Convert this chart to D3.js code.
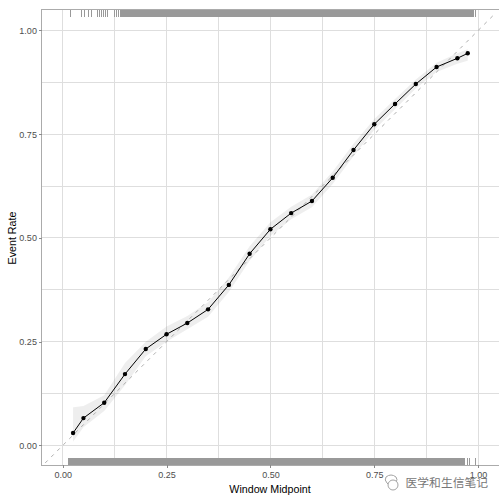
<!DOCTYPE html>
<html><head><meta charset="utf-8">
<script src="https://cdn.jsdelivr.net/npm/d3@7"></script>
<style>html,body{margin:0;padding:0;background:#fff}svg{display:block}</style>
</head><body><svg id="c" width="504" height="504"></svg>
<script>
const midpoints=[.025,.05,.1,.15,.2,.25,.3,.35,.4,.45,.5,.55,.6,.65,.7,.75,.8,.85,.9,.95,.975];
const eventRate=[.030,.066,.103,.172,.2325,.268,.295,.328,.387,.462,.521,.560,.589,.645,.712,.774,.823,.871,.912,.933,.945];
const ciLower=[.009,.044,.083,.145,.215,.25,.28,.31,.37,.445,.505,.545,.574,.63,.697,.76,.81,.86,.9,.92,.927];
const ciUpper=[.092,.095,.121,.199,.25,.287,.312,.345,.405,.48,.538,.575,.605,.66,.727,.787,.835,.882,.922,.945,.955];
const majorTicks=[0,.25,.5,.75,1];
const gridTicks=[0,.125,.25,.375,.5,.625,.75,.875,1];
const tickLabels=["0.00","0.25","0.50","0.75","1.00"];
const refLine=[-.042,1.04];
const rugTopTicks=[.019,.0455,.053,.0625,.0695,.084,.0885,.094,.0985,.104,.1085,.1245,.1295,.1345];
const rugTopBand=[.1375,.9895];
const rugTopLate=[.9935];
const rugBottomBand=[.0125,.9695];
const rugBottomLate=[.974,.979,.9945];
const xTitle="Window Midpoint", yTitle="Event Rate", watermark="医学和生信笔记";

const W=504,H=504,svg=d3.select("#c");
const x=d3.scaleLinear().domain([-.05,1.05]).range([41.9,498.9]);
const y=d3.scaleLinear().domain([-.0475,1.05]).range([465.2,9.75]);
const FONT="'Liberation Sans',Arial,sans-serif";

const gridG=svg.append("g").attr("shape-rendering","crispEdges").attr("stroke","#dedede").attr("stroke-width",1);
gridG.selectAll(".v").data(gridTicks).join("line").attr("x1",d=>x(d)).attr("x2",d=>x(d)).attr("y1",y.range()[0]).attr("y2",y.range()[1]);
gridG.selectAll(".h").data(gridTicks).join("line").attr("y1",d=>y(d)).attr("y2",d=>y(d)).attr("x1",x.range()[0]).attr("x2",x.range()[1]);

const rows=midpoints.map((m,i)=>({m,r:eventRate[i],lo:ciLower[i],hi:ciUpper[i]}));
svg.append("path").datum(rows).attr("fill","#000").attr("fill-opacity",.065)
 .attr("d",d3.area().x(d=>x(d.m)).y0(d=>y(d.lo)).y1(d=>y(d.hi)));

svg.append("line").attr("x1",x(refLine[0])).attr("y1",y(refLine[0])).attr("x2",x(refLine[1])).attr("y2",y(refLine[1]))
 .attr("stroke","#999").attr("stroke-width",.8).attr("stroke-dasharray","3.5 5");

const rugColor="#999999", rugTopH=7.5, rugBotH=7;
const rug=svg.append("g").attr("shape-rendering","crispEdges");
const yT=y.range()[1], yB=y.range()[0];
rug.selectAll(".tt").data(rugTopTicks.concat(rugTopLate)).join("line").attr("x1",d=>x(d)).attr("x2",d=>x(d)).attr("y1",yT).attr("y2",yT+rugTopH).attr("stroke",rugColor).attr("stroke-width",1);
rug.append("rect").attr("x",x(rugTopBand[0])).attr("width",x(rugTopBand[1])-x(rugTopBand[0])).attr("y",yT).attr("height",rugTopH).attr("fill",rugColor);
rug.append("rect").attr("x",x(rugBottomBand[0])).attr("width",x(rugBottomBand[1])-x(rugBottomBand[0])).attr("y",yB-rugBotH).attr("height",rugBotH).attr("fill",rugColor);
rug.selectAll(".bt").data(rugBottomLate).join("line").attr("x1",d=>x(d)).attr("x2",d=>x(d)).attr("y1",yB-rugBotH).attr("y2",yB).attr("stroke",rugColor).attr("stroke-width",1);

svg.append("path").datum(rows).attr("fill","none").attr("stroke","#000").attr("stroke-width",1)
 .attr("d",d3.line().x(d=>x(d.m)).y(d=>y(d.r)));
svg.selectAll("circle.p").data(rows).join("circle").attr("class","p").attr("cx",d=>x(d.m)).attr("cy",d=>y(d.r)).attr("r",2.2).attr("fill","#000");

const border=svg.append("g").attr("shape-rendering","crispEdges").attr("stroke","#ababab").attr("stroke-width",1).attr("fill","none");
border.append("path").attr("d",d3.line()([[x.range()[1],yT],[x.range()[0],yT],[x.range()[0],yB],[x.range()[1],yB]]));

const fmt=(d)=>tickLabels[majorTicks.indexOf(d)];
const ax=svg.append("g").attr("transform",`translate(0,${yB})`).call(d3.axisBottom(x).tickValues(majorTicks).tickFormat(fmt).tickSize(3).tickPadding(3));
const ay=svg.append("g").attr("transform",`translate(${x.range()[0]},0)`).call(d3.axisLeft(y).tickValues(majorTicks).tickFormat(fmt).tickSize(3).tickPadding(2));
[ax,ay].forEach(g=>{g.select(".domain").remove();g.selectAll("line").attr("stroke","#8a8a8a").attr("shape-rendering","crispEdges");
 g.selectAll("text").attr("fill","#4d4d4d").style("font-family",FONT).style("font-size","9px");});

svg.append("text").attr("x",270).attr("y",492.5).attr("text-anchor","middle").attr("fill","#000").style("font-family",FONT).style("font-size","10.7px").text(xTitle);
svg.append("text").attr("transform","translate(16,238) rotate(-90)").attr("text-anchor","middle").attr("fill","#000").style("font-family",FONT).style("font-size","10.7px").text(yTitle);

const wm=svg.append("g");
wm.append("path").attr("d","M386 477 q5 -4 10 0 q2 3 0 5").attr("fill","none").attr("stroke","#999").attr("stroke-width",.9);
wm.append("path").attr("d","M386 477 q-2 3 1 6 l3 3").attr("fill","none").attr("stroke","#999").attr("stroke-width",.9);
wm.append("circle").attr("cx",393).attr("cy",485).attr("r",5).attr("fill","#fff").attr("stroke","#999").attr("stroke-width",.9);
wm.append("text").attr("x",405.5).attr("y",487.3).attr("fill","#777").style("font-family","'Noto Sans CJK SC'").style("font-size","11.8px").text(watermark);
</script></body></html>
